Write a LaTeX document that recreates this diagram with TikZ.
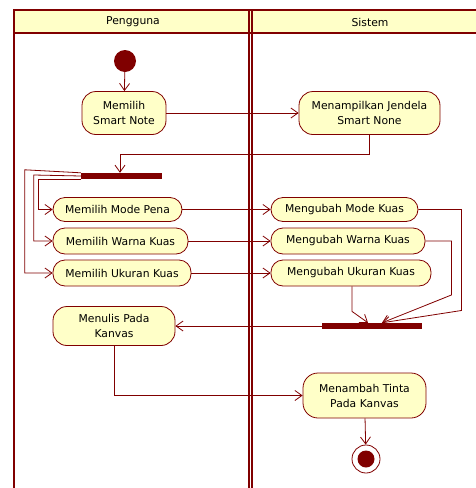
\documentclass[tikz,border=0pt]{standalone}
\usepackage{fontspec}
\setmainfont{DejaVu Sans}
\usetikzlibrary{arrows.meta}
\definecolor{uml}{RGB}{128,0,0}
\definecolor{umlfill}{RGB}{255,255,200}

\begin{document}
\begin{tikzpicture}[x=1pt, y=-1pt,
    font=\fontsize{10.8}{15}\selectfont,
    lane/.style={draw=uml, line width=2.2pt},
    act/.style={rectangle, rounded corners=12pt, draw=uml, line width=0.8pt, fill=umlfill,
        align=center, inner sep=1pt},
    bar/.style={rectangle, fill=uml, inner sep=0pt, minimum height=6pt},
    flow/.style={draw=uml, line width=0.8pt, -{Straight Barb[length=7pt,width=10pt]}}]
    \useasboundingbox (0,0) rectangle (476,488);

    \fill[umlfill] (14,10) rectangle (476,33);
    \draw[lane] (14,488) -- (14,10) -- (476,10);
    \draw[lane] (14,33) -- (476,33);
    \draw[lane] (248.6,10) -- (248.6,488);
    \draw[lane] (251.8,10) -- (251.8,488);
    \node (pengguna) at (133,22) {Pengguna};
    \node (sistem) at (370,22) {Sistem};

    \node [circle, fill=uml, minimum size=22pt, inner sep=0pt] (start) at (125,61) {};
    \node [act, minimum width=84pt, minimum height=43pt, rounded corners=14pt] (pilih) at (124,113) {Memilih\\Smart Note};
    \node [act, minimum width=141pt, minimum height=43pt, rounded corners=14pt] (tampil) at (369.5,113) {Menampilkan Jendela\\Smart None};
    \node [bar, minimum width=81pt] (fork) at (121.5,176) {};

    \node [act, minimum width=129pt, minimum height=24pt] (mode) at (117.5,209.5) {Memilih Mode Pena};
    \node [act, minimum width=135pt, minimum height=26pt] (warna) at (120.5,241) {Memilih Warna Kuas};
    \node [act, minimum width=138pt, minimum height=26pt] (ukuran) at (122,273) {Memilih Ukuran Kuas};
    \node [act, minimum width=147pt, minimum height=24pt] (ubahmode) at (344.5,209.5) {Mengubah Mode Kuas};
    \node [act, minimum width=154pt, minimum height=26pt] (ubahwarna) at (348,241) {Mengubah Warna Kuas};
    \node [act, minimum width=160pt, minimum height=26pt] (ubahukuran) at (351,273) {Mengubah Ukuran Kuas};

    \node [bar, minimum width=100pt] (join) at (372,326) {};
    \node [act, minimum width=122pt, minimum height=39pt, rounded corners=14pt] (menulis) at (114,326) {Menulis Pada\\Kanvas};
    \node [act, minimum width=123pt, minimum height=45pt, rounded corners=15pt] (tambah) at (364.5,395.5) {Menambah Tinta\\Pada Kanvas};
    \node [circle, draw=uml, line width=0.8pt, fill=white, minimum size=28pt, inner sep=0pt,
        path picture={\fill[uml] (path picture bounding box.center) circle (8.5pt);}] (end) at (366,459) {};

    \draw[flow] (start) -- (pilih);
    \draw[flow] (pilih) -- (tampil);
    \draw[flow] (tampil.south) -- ++(0,19) -| ([xshift=-1.5pt]fork.north);
    \draw[flow] (fork.south west) -- ++(-42,0) |- (mode.west);
    \draw[flow] (fork.west) -- ++(-47,-1) |- (warna.west);
    \draw[flow] (fork.north west) -- ++(-56,-3) |- (ukuran.west);
    \draw[flow] (mode) -- (ubahmode);
    \draw[flow] (warna) -- (ubahwarna);
    \draw[flow] (ukuran) -- (ubahukuran);
    \draw[flow] (ubahmode.east) -- ++(43,0) -- ++(0,101) -- ([xshift=10pt]join.north);
    \draw[flow] (ubahwarna.east) -- ++(26,0) -- ++(0,54) -- ([xshift=10pt]join.north);
    \draw[flow] ([xshift=1pt]ubahukuran.south) -- ++(0,25) -- ([xshift=-4pt]join.north);
    \draw[flow] (join.west) -- (menulis.east);
    \draw[flow] (menulis.south) |- (tambah.west);
    \draw[flow] (tambah) -- (end);
\end{tikzpicture}
\end{document}
